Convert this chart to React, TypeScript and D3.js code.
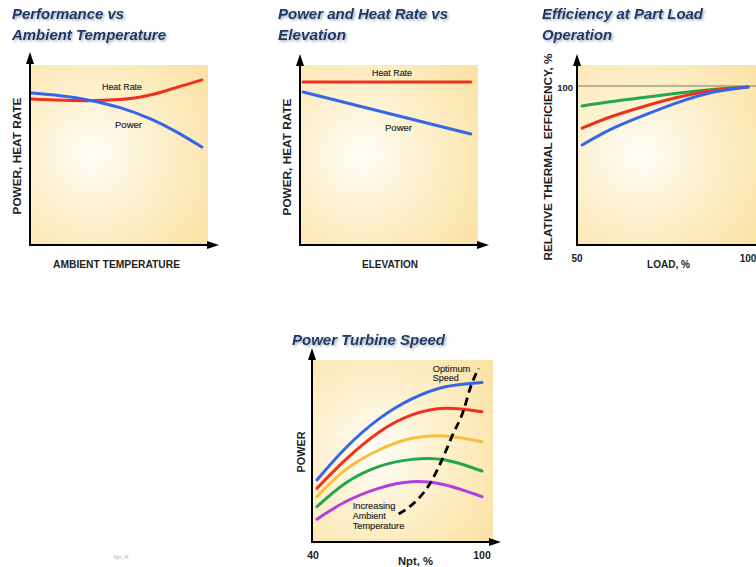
import React from "react";
import * as d3 from "d3";

// ---------- Data ----------
// Panel 1: Performance vs Ambient Temperature (normalized 0-100 units)
const p1HeatRateX = [1, 32, 50.6, 67.4, 81.5, 96.6];
const p1HeatRateY = [81.1, 80.2, 80.8, 83.3, 87.2, 91.7];
const p1PowerX = [1, 16.9, 32.6, 50.6, 67.4, 81.5, 96.6];
const p1PowerY = [84.4, 82.9, 80.6, 76.3, 70.2, 63.3, 54.4];

// Panel 2: Power and Heat Rate vs Elevation
const p2HeatRateX = [1.7, 96];
const p2HeatRateY = [90.6, 90.6];
const p2PowerX = [1.7, 96];
const p2PowerY = [85, 61.7];

// Panel 3: Efficiency at part load (load %, relative efficiency %)
const p3Load = [51.5, 59.7, 69.5, 79.2, 89.0, 100];
const p3Green = [96.4, 97.2, 98.0, 98.8, 99.5, 100];
const p3Red = [92.2, 94.3, 96.3, 98.0, 99.3, 100];
const p3Blue = [89.0, 91.9, 94.6, 97.0, 98.9, 100];
const p3YTicks = [100];
const p3XTicks = [50, 100];

// Panel 4: Power turbine speed (Npt %, power 0-100)
const p4Npt = [41.4, 51.5, 63.3, 75.1, 87.0, 100];
const p4Blue = [34.1, 51.5, 67.5, 78.6, 85.3, 87.7];
const p4Red = [29.5, 45.1, 60.2, 69.8, 73.5, 71.6];
const p4Yellow = [24.9, 39.6, 50.5, 57.0, 58.2, 55.1];
const p4Green = [19.4, 32.3, 41.4, 45.4, 45.1, 39.0];
const p4Purple = [12.5, 22.1, 29.5, 33.1, 31.3, 24.9];
const p4OptX = [70.4, 75.1, 81.6, 85.8, 89.3, 93.5, 95.8, 98.8];
const p4OptY = [15.4, 20.4, 32.3, 45.1, 57.9, 72.5, 84.5, 95.4];
const p4XTicks = [40, 100];

const BLUE = "#3566e8";
const RED = "#f0321c";
const GREEN = "#22a84a";
const YELLOW = "#f5c040";
const PURPLE = "#b23ee0";
const TITLE = "#1d3766";
const FONT = "'Liberation Sans', Arial, sans-serif";

type Pt = [number, number];
const zip = (xs: number[], ys: number[]): Pt[] => xs.map((x, i) => [x, ys[i]]);

function Curve({ pts, x, y, color, dash, width = 3, curve = d3.curveMonotoneX }: any) {
  const gen = d3
    .line<Pt>()
    .x((d) => x(d[0]))
    .y((d) => y(d[1]))
    .curve(curve);
  return (
    <path
      d={gen(pts) || ""}
      fill="none"
      stroke={color}
      strokeWidth={width}
      strokeLinecap={dash ? "butt" : "round"}
      strokeDasharray={dash}
    />
  );
}

function Axes({ x0, y1, arrowTop, arrowRight }: any) {
  return (
    <g>
      <line x1={x0} y1={y1} x2={x0} y2={arrowTop + 8} stroke="#000" strokeWidth={2} />
      <path d={`M${x0},${arrowTop} L${x0 - 4},${arrowTop + 12} L${x0 + 4},${arrowTop + 12} Z`} fill="#000" />
      <line x1={x0 - 1} y1={y1} x2={arrowRight - 8} y2={y1} stroke="#000" strokeWidth={2} />
      <path d={`M${arrowRight},${y1} L${arrowRight - 12},${y1 - 4} L${arrowRight - 12},${y1 + 4} Z`} fill="#000" />
    </g>
  );
}

function Title({ x, y, lines, lengths }: { x: number; y: number; lines: string[]; lengths: number[] }) {
  return (
    <g filter="url(#tshadow)">
      {lines.map((l, i) => (
        <text
          key={i}
          x={x}
          y={y + i * 21}
          fontFamily={FONT}
          fontWeight="bold"
          fontStyle="italic"
          fontSize={15}
          fill={TITLE}
          textLength={lengths[i]}
          lengthAdjust="spacingAndGlyphs"
        >
          {l}
        </text>
      ))}
    </g>
  );
}

function AxisLabel({ x, y, text, rotate = false, size = 10, len }: any) {
  return (
    <text
      x={x}
      y={y}
      fontFamily={FONT}
      fontWeight="bold"
      fontSize={size}
      fill="#222"
      textAnchor="middle"
      textLength={len}
      lengthAdjust="spacingAndGlyphs"
      transform={rotate ? `rotate(-90 ${x} ${y})` : undefined}
    >
      {text}
    </text>
  );
}

function Small({ x, y, text, anchor = "middle", len }: any) {
  return (
    <text
      x={x}
      y={y}
      fontFamily={FONT}
      fontSize={9}
      fill="#222"
      textAnchor={anchor}
      textLength={len}
      lengthAdjust="spacingAndGlyphs"
      stroke="#222"
      strokeWidth={0.15}
    >
      {text}
    </text>
  );
}

export default function App() {
  // Panel 1 scales
  const x1 = d3.scaleLinear().domain([0, 100]).range([30, 208]);
  const y1 = d3.scaleLinear().domain([0, 100]).range([245, 65]);
  // Panel 2 scales
  const x2 = d3.scaleLinear().domain([0, 100]).range([300, 478]);
  const y2 = d3.scaleLinear().domain([0, 100]).range([245, 65]);
  // Panel 3 scales
  const x3 = d3.scaleLinear().domain([50, 100]).range([577, 748]);
  const y3 = d3.scaleLinear().domain([70, 100]).range([245, 87]);
  // Panel 4 scales
  const x4 = d3.scaleLinear().domain([40, 100]).range([313, 482]);
  const y4 = d3.scaleLinear().domain([0, 100]).range([542, 360]);

  return (
    <svg
      width={756}
      height={567}
      viewBox="0 0 756 567"
      style={{ position: "absolute", left: 0, top: 0, background: "#fff" }}
    >
      <defs>
        <radialGradient id="bg" cx="35%" cy="50%" r="75%">
          <stop offset="0%" stopColor="#fffefa" />
          <stop offset="45%" stopColor="#fdf1cf" />
          <stop offset="100%" stopColor="#fbe3a8" />
        </radialGradient>
        <filter id="tshadow" x="-10%" y="-30%" width="130%" height="180%">
          <feDropShadow dx="1.5" dy="1.5" stdDeviation="1.2" floodColor="#7a869a" floodOpacity="0.7" />
        </filter>
      </defs>

      {/* ---------- Panel 1 ---------- */}
      <Title x={12} y={19} lines={["Performance vs", "Ambient Temperature"]} lengths={[112, 154]} />
      <rect x={30} y={65} width={178} height={180} fill="url(#bg)" />
      <Curve pts={zip(p1HeatRateX, p1HeatRateY)} x={x1} y={y1} color={RED} />
      <Curve pts={zip(p1PowerX, p1PowerY)} x={x1} y={y1} color={BLUE} />
      <Axes x0={30} y1={245} arrowTop={52} arrowRight={219} />
      <Small x={122} y={90} text="Heat Rate" len={40} />
      <Small x={128.5} y={128} text="Power" len={27} />
      <AxisLabel x={116.5} y={268} text="AMBIENT TEMPERATURE" len={127} />
      <AxisLabel x={21} y={156} text="POWER, HEAT RATE" rotate len={117} />

      {/* ---------- Panel 2 ---------- */}
      <Title x={278} y={19} lines={["Power and Heat Rate vs", "Elevation"]} lengths={[170, 68]} />
      <rect x={300} y={65} width={178} height={180} fill="url(#bg)" />
      <Curve pts={zip(p2HeatRateX, p2HeatRateY)} x={x2} y={y2} color={RED} curve={d3.curveLinear} />
      <Curve pts={zip(p2PowerX, p2PowerY)} x={x2} y={y2} color={BLUE} curve={d3.curveLinear} />
      <Axes x0={300} y1={245} arrowTop={54} arrowRight={489} />
      <Small x={392} y={76} text="Heat Rate" len={40} />
      <Small x={398.5} y={131} text="Power" len={27} />
      <AxisLabel x={390} y={268} text="ELEVATION" len={56} />
      <AxisLabel x={291} y={157} text="POWER, HEAT RATE" rotate len={117} />

      {/* ---------- Panel 3 ---------- */}
      <Title x={542} y={19} lines={["Efficiency at Part Load", "Operation"]} lengths={[161, 70]} />
      <rect x={577} y={65} width={185} height={180} fill="url(#bg)" />
      {p3YTicks.map((t) => (
        <g key={t}>
          <line x1={577} x2={760} y1={y3(t) - 1} y2={y3(t) - 1} stroke="#6b6b5a" strokeWidth={0.9} />
          <text x={573} y={y3(t) + 3.5} fontFamily={FONT} fontWeight="bold" fontSize={9.5} textAnchor="end" fill="#222">
            {t}
          </text>
        </g>
      ))}
      <Curve pts={zip(p3Load, p3Green)} x={x3} y={y3} color={GREEN} />
      <Curve pts={zip(p3Load, p3Red)} x={x3} y={y3} color={RED} />
      <Curve pts={zip(p3Load, p3Blue)} x={x3} y={y3} color={BLUE} />
      <Axes x0={577} y1={245} arrowTop={54} arrowRight={768} />
      {p3XTicks.map((t) => (
        <text key={t} x={x3(t)} y={262} fontFamily={FONT} fontWeight="bold" fontSize={10} textAnchor="middle" fill="#222">
          {t}
        </text>
      ))}
      <AxisLabel x={668.5} y={268} text="LOAD, %" len={43} />
      <AxisLabel x={552} y={157} text="RELATIVE THERMAL EFFICIENCY, %" rotate size={10.5} len={207} />

      {/* ---------- Panel 4 ---------- */}
      <Title x={292} y={345} lines={["Power Turbine Speed"]} lengths={[153]} />
      <rect x={312} y={360} width={181} height={182} fill="url(#bg)" />
      <Curve pts={zip(p4Npt, p4Blue)} x={x4} y={y4} color={BLUE} curve={d3.curveNatural} />
      <Curve pts={zip(p4Npt, p4Red)} x={x4} y={y4} color={RED} curve={d3.curveNatural} />
      <Curve pts={zip(p4Npt, p4Yellow)} x={x4} y={y4} color={YELLOW} curve={d3.curveNatural} />
      <Curve pts={zip(p4Npt, p4Green)} x={x4} y={y4} color={GREEN} curve={d3.curveNatural} />
      <Curve pts={zip(p4Npt, p4Purple)} x={x4} y={y4} color={PURPLE} curve={d3.curveNatural} />
      <Curve
        pts={zip(p4OptX, p4OptY)}
        x={x4}
        y={y4}
        color="#000"
        width={2.8}
        dash="8 5"
        curve={d3.curveMonotoneX}
      />
      <Axes x0={312} y1={542} arrowTop={348} arrowRight={501} />
      <Small x={432.7} y={372} text="Optimum" anchor="start" len={37.6} />
      <Small x={432.7} y={381} text="Speed" anchor="start" len={26} />
      <Small x={352.7} y={509} text="Increasing" anchor="start" len={42.7} />
      <Small x={352.7} y={519} text="Ambient" anchor="start" len={33} />
      <Small x={352.7} y={529} text="Temperature" anchor="start" len={51.6} />
      {p4XTicks.map((t) => (
        <text key={t} x={x4(t)} y={559} fontFamily={FONT} fontWeight="bold" fontSize={10.5} textAnchor="middle" fill="#222">
          {t}
        </text>
      ))}
      <AxisLabel x={415.5} y={565} text="Npt, %" len={35} />
      <AxisLabel x={305} y={452} text="POWER" rotate len={41} />

      {/* faint stray text */}
      <text x={121} y={559} fontFamily={FONT} fontSize={5} fill="#aaa" textAnchor="middle">
        Npt, %
      </text>
    </svg>
  );
}
